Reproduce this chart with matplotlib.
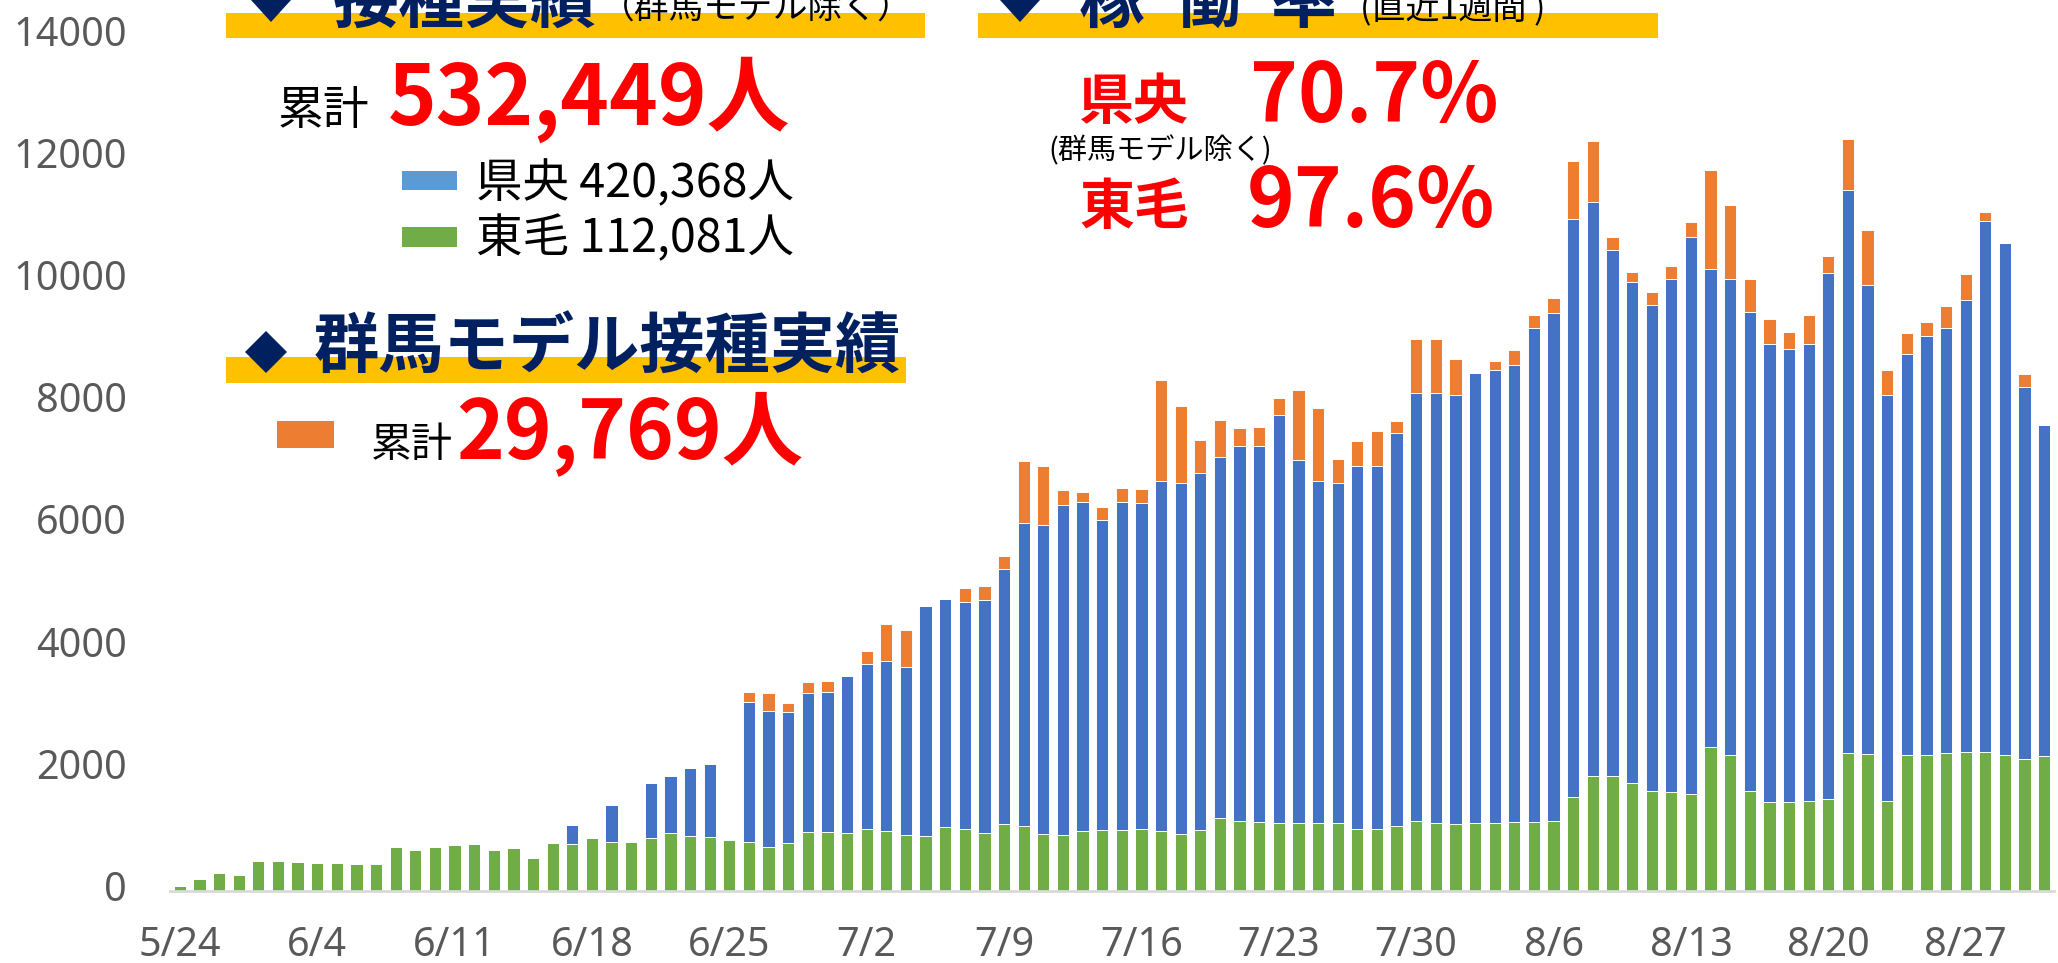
import matplotlib
matplotlib.use("Agg")
import matplotlib.pyplot as plt
import matplotlib.transforms as mtransforms
from matplotlib.patches import Rectangle, Polygon
import numpy as np

# ---------------- data ----------------
tick_labels = ["5/24", "6/4", "6/11", "6/18", "6/25", "7/2", "7/9", "7/16",
               "7/23", "7/30", "8/6", "8/13", "8/20", "8/27"]

# 東毛 (green, bottom)
tomo = [90, 200, 295, 255, 485, 485, 475, 455, 465, 440, 445, 715, 670, 715, 745, 770,
        665, 710, 540, 785, 775, 875, 800, 795, 875, 950, 900, 885, 840, 800, 720, 785,
        965, 965, 945, 1010, 975, 910, 900, 1040, 1020, 945, 1095, 1070, 925, 910, 975, 995,
        995, 1010, 985, 940, 995, 1190, 1140, 1125, 1115, 1105, 1105, 1105, 1015, 1015, 1065, 1145,
        1115, 1090, 1115, 1115, 1130, 1130, 1150, 1540, 1875, 1875, 1760, 1635, 1620, 1580, 2355, 2230,
        1630, 1450, 1460, 1465, 1505, 2255, 2240, 1480, 2230, 2230, 2255, 2270, 2280, 2230, 2165, 2215]

# 県央 (blue, middle)
kenou = [0, 0, 0, 0, 0, 0, 0, 0, 0, 0, 0, 0, 0, 0, 0, 0,
         0, 0, 0, 0, 300, 0, 610, 0, 900, 935, 1110, 1195, 0, 2290, 2225, 2140,
         2270, 2295, 2570, 2710, 2785, 2760, 3770, 3745, 3715, 3825, 4170, 4960, 5070, 5410, 5390, 5070,
         5375, 5345, 5730, 5745, 5840, 5920, 6140, 6160, 6680, 5950, 5600, 5570, 5945, 5945, 6430, 7010,
         7040, 7035, 7370, 7420, 7485, 8080, 8305, 9455, 9395, 8615, 8200, 7955, 8395, 9130, 7825, 7785,
         7840, 7500, 7410, 7490, 8615, 9225, 7670, 6645, 6565, 6850, 6955, 7400, 8680, 8370, 6085, 5405]

# 群馬モデル (orange, top)
gunma_model = [0, 0, 0, 0, 0, 0, 0, 0, 0, 0, 0, 0, 0, 0, 0, 0,
               0, 0, 0, 0, 0, 0, 0, 0, 0, 0, 0, 0, 0, 165, 300, 145,
               180, 180, 0, 210, 605, 600, 0, 0, 220, 225, 225, 1005, 965, 235, 160, 220,
               225, 220, 1650, 1255, 550, 595, 295, 305, 270, 1140, 1205, 390, 405, 575, 205, 880,
               875, 585, 0, 140, 245, 220, 245, 955, 1000, 210, 165, 210, 220, 235, 1615, 1220,
               545, 415, 285, 470, 270, 830, 905, 400, 340, 235, 360, 430, 145, 0, 205, 0]

y_ticks = [0, 2000, 4000, 6000, 8000, 10000, 12000, 14000]

# ---------------- figure ----------------
W, H = 2058, 963
fig = plt.figure(figsize=(W / 100, H / 100), dpi=100)
fig.patch.set_facecolor("white")


def fx(px):
    return px / W


def fy(py):
    return 1 - py / H


C_BLUE = "#4472C4"
C_GREEN = "#70AD47"
C_ORANGE = "#ED7D31"
C_NAVY = "#002060"
C_YELLOW = "#FFC000"
C_RED = "#FF0000"
CJK = ["Noto Sans CJK JP", "DejaVu Sans"]
NUMF = ["Noto Sans", "DejaVu Sans"]

ax = fig.add_axes([fx(170), fy(891), (2054 - 170) / W, (891 - 35.6) / H])
ax.patch.set_facecolor("none")

n = len(tomo)
x = np.arange(n)
g = np.array(tomo, dtype=float)
b = np.array(kenou, dtype=float)
o = np.array(gunma_model, dtype=float)
bw = 0.63
kw = dict(width=bw, edgecolor="white", linewidth=0.7)
ax.bar(x, g, color=C_GREEN, **kw)
ax.bar(x, b, bottom=g, color=C_BLUE, **kw)
ax.bar(x, o, bottom=g + b, color=C_ORANGE, **kw)

ax.set_xlim(-0.5, n - 0.5)
ax.set_ylim(0, 14000)
ax.set_yticks(y_ticks)
ax.set_yticklabels([str(v) for v in y_ticks])
ax.set_xticks(np.arange(0, 7 * len(tick_labels), 7))
ax.set_xticklabels(tick_labels)
ax.tick_params(length=0, labelsize=28.5, labelcolor="#595959")
ax.tick_params(axis="y", pad=31)
ax.tick_params(axis="x", pad=25)
up = mtransforms.ScaledTranslation(0, 5 / 100, fig.dpi_scale_trans)
for lbl in ax.get_yticklabels():
    lbl.set_fontfamily(NUMF)
    lbl.set_transform(lbl.get_transform() + up)
for lbl in ax.get_xticklabels():
    lbl.set_fontfamily(NUMF)
for s in ["top", "right", "left"]:
    ax.spines[s].set_visible(False)
ax.spines["bottom"].set_color("#D9D9D9")
ax.spines["bottom"].set_linewidth(2)


def rect(x0, y0, x1, y1, color):
    fig.patches.append(Rectangle((fx(x0), fy(y1)), (x1 - x0) / W, (y1 - y0) / H,
                                 transform=fig.transFigure, facecolor=color,
                                 edgecolor="none", zorder=1))


def diamond(cx, cy, hw, hh, color=C_NAVY):
    pts = [(fx(cx - hw), fy(cy)), (fx(cx), fy(cy - hh)), (fx(cx + hw), fy(cy)), (fx(cx), fy(cy + hh))]
    fig.patches.append(Polygon(pts, closed=True, transform=fig.transFigure,
                               facecolor=color, edgecolor="none", zorder=4))


def txt(px, py, s, size, color="black", weight="normal", family=CJK, ha="left"):
    fig.text(fx(px), fy(py), s, fontsize=size, color=color, fontweight=weight,
             family=family, ha=ha, va="baseline", zorder=5)


# header 1
rect(226, 13, 925, 38, C_YELLOW)
diamond(271, 0, 20, 22)
txt(333, 22, "接種実績", 47.5, C_NAVY, "bold")
txt(600, 19, "（群馬モデル除く）", 25)

txt(278, 124, "累計", 33)
txt(388, 125, "532,449人", 59.5, C_RED, "bold")
rect(402, 171, 457, 190, "#5B9BD5")
txt(476, 197, "県央 420,368人", 33.5)
rect(402, 227, 457, 247, C_GREEN)
txt(476, 252, "東毛 112,081人", 33.5)

# header 2
rect(226, 357, 906, 383, C_YELLOW)
diamond(266, 352, 21, 21)
txt(314, 368, "群馬モデル接種実績", 47, C_NAVY, "bold")
rect(277, 421, 334, 448, C_ORANGE)
txt(371, 457, "累計", 29.5)
txt(456, 458, "29,769人", 58.5, C_RED, "bold")

# header 3 (right)
rect(978, 13, 1658, 38, C_YELLOW)
diamond(1020, 0, 20, 22)
txt(1079, 22, "稼  働  率", 47.5, C_NAVY, "bold")
txt(1360, 19, "(直近1週間 )", 24.5)

txt(1079, 119, "県央", 39.5, C_RED, "bold")
txt(1250, 122, "70.7%", 58.5, C_RED, "bold")
txt(1048, 159, "(群馬モデル除く)", 21)
txt(1079, 224, "東毛", 39.5, C_RED, "bold")
txt(1247, 227, "97.6%", 58.5, C_RED, "bold")

fig.savefig("out.png", dpi=100, facecolor="white")
